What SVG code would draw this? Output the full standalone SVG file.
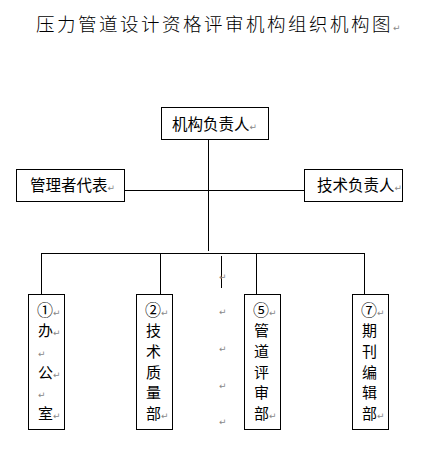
<svg xmlns="http://www.w3.org/2000/svg" width="440" height="449" viewBox="0 0 440 449">
<style>
.t{font-family:"Noto Sans CJK SC","Noto Sans CJK JP",sans-serif;fill:#000}
.h{font-weight:300}
.m{font-family:"DejaVu Sans",sans-serif;font-size:9px;fill:#888;font-weight:normal}
.b{fill:#fff;stroke:#000;stroke-width:1}
.c{fill:none;stroke:#000;stroke-width:1}
</style>
<rect width="440" height="449" fill="#fff"/>
<text class="t h" x="36" y="31" font-size="18.5" letter-spacing="2.5">压力管道设计资格评审机构组织机构图<tspan class="m" font-size="10">↵</tspan></text>
<g id="connectors">
<path class="c" d="M208.5 139V251M125 190.5H304M41.5 253.5H364.5M41.5 253V294M160.5 253V294M256.5 253V294M364.5 253V294M221.5 256V288"/>
</g>
<g id="n0">
<rect class="b" x="161.5" y="107.5" width="107" height="32"/>
<text class="t" x="172" y="130" font-size="15.5">机构负责人<tspan class="m">↵</tspan></text>
</g>
<g id="n1">
<rect class="b" x="16.5" y="169.5" width="108" height="32"/>
<text class="t" x="30" y="191" font-size="15.5">管理者代表<tspan class="m">↵</tspan></text>
</g>
<g id="n2">
<rect class="b" x="304.5" y="169.5" width="98" height="32"/>
<text class="t" x="317" y="191" font-size="15.5">技术负责人<tspan class="m">↵</tspan></text>
</g>
<g id="n3">
<rect class="b" x="28.5" y="294.5" width="36" height="135"/>
<g class="t" font-size="15">
<text x="37" y="316" font-size="16">①<tspan class="m">↵</tspan></text>
<text x="38" y="336">办<tspan class="m">↵</tspan></text>
<text class="m" x="38" y="357">↵</text>
<text x="38" y="378">公<tspan class="m">↵</tspan></text>
<text class="m" x="38" y="398">↵</text>
<text x="38" y="419">室<tspan class="m">↵</tspan></text>
</g>
</g>
<g id="n4">
<rect class="b" x="136.5" y="294.5" width="36" height="135"/>
<g class="t" font-size="15">
<text x="145" y="316" font-size="16">②<tspan class="m">↵</tspan></text>
<text x="146" y="336">技</text>
<text x="146" y="357">术</text>
<text x="146" y="378">质</text>
<text x="146" y="398">量</text>
<text x="146" y="419">部<tspan class="m">↵</tspan></text>
</g>
</g>
<g id="n5">
<rect class="b" x="244.5" y="294.5" width="36" height="135"/>
<g class="t" font-size="15">
<text x="253" y="316" font-size="16">⑤<tspan class="m">↵</tspan></text>
<text x="254" y="336">管</text>
<text x="254" y="357">道</text>
<text x="254" y="378">评</text>
<text x="254" y="398">审</text>
<text x="254" y="419">部<tspan class="m">↵</tspan></text>
</g>
</g>
<g id="n6">
<rect class="b" x="352.5" y="294.5" width="36" height="135"/>
<g class="t" font-size="15">
<text x="361" y="316" font-size="16">⑦<tspan class="m">↵</tspan></text>
<text x="362" y="336">期</text>
<text x="362" y="357">刊</text>
<text x="362" y="378">编</text>
<text x="362" y="398">辑</text>
<text x="362" y="419">部<tspan class="m">↵</tspan></text>
</g>
</g>
<g id="marks">
<text class="m" x="219" y="280">↵</text>
<text class="m" x="219" y="315">↵</text>
<text class="m" x="219" y="352">↵</text>
<text class="m" x="219" y="389">↵</text>
<text class="m" x="219" y="425">↵</text>
</g>
</svg>
